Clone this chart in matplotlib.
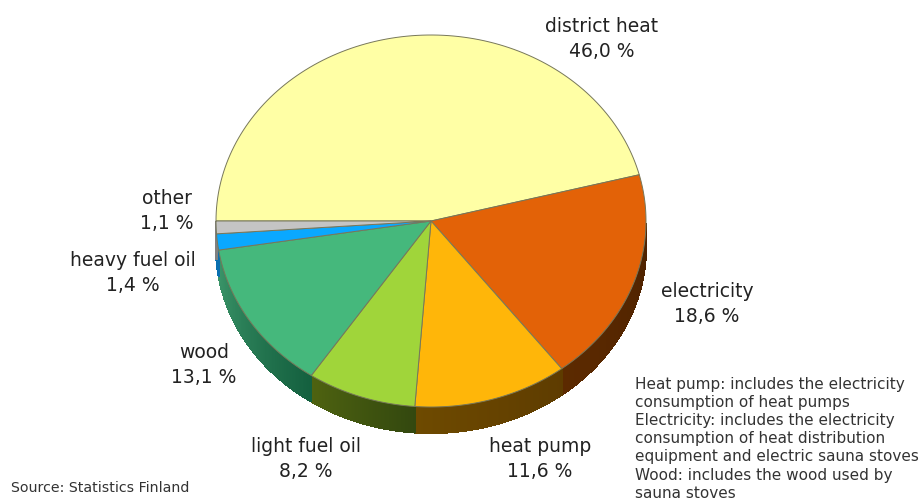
import numpy as np
import matplotlib
matplotlib.use("Agg")
import matplotlib.pyplot as plt
from matplotlib.patches import PathPatch, Polygon
from matplotlib.colors import to_rgb
from matplotlib.path import Path

# heating energy shares, clockwise starting from the left edge of the pie
names = ["district heat", "electricity", "heat pump", "light fuel oil", "wood", "heavy fuel oil", "other"]
shares = [46.0, 18.6, 11.6, 8.2, 13.1, 1.4, 1.1]
shares_txt = ["46,0 %", "18,6 %", "11,6 %", "8,2 %", "13,1 %", "1,4 %", "1,1 %"]
top_cols = ["#FFFFA5", "#E36207", "#FFB609", "#A0D53A", "#45B87C", "#0AA8FF", "#C4C4C4"]
# side wall runs from one shade to the next along the rim
side_a = ["#B0B070", "#4E2200", "#5E3C00", "#33480F", "#14603F", "#0A70B0", "#808080"]
side_b = ["#B0B070", "#5C2A00", "#6E4A00", "#4E6210", "#3A9468", "#0A70B0", "#808080"]
label_x = [602, 707, 540, 306, 204, 133, 167]
label_y = [39, 304, 459, 459, 365, 273, 211]
note = ("Heat pump: includes the electricity\nconsumption of heat pumps\n"
        "Electricity: includes the electricity\nconsumption of heat distribution\n"
        "equipment and electric sauna stoves\nWood: includes the wood used by\nsauna stoves")

cx, cy, rx, ry, depth = 431, 221, 215, 186, 26

fig = plt.figure(figsize=(9.21, 4.99), dpi=100)
ax = fig.add_axes([0, 0, 1, 1])
ax.set_xlim(0, 921)
ax.set_ylim(499, 0)
ax.axis("off")

# y axis is inverted, so angles grow clockwise on screen
edges = []
a = 180.0
for s in shares:
    edges.append((a, a + s * 3.6))
    a += s * 3.6

# side wall, only the part facing the viewer
for (a0, a1), c0, c1 in zip(edges, side_a, side_b):
    t = np.radians(np.linspace(a0, a1, 90))
    t = t[np.sin(t) > 0]
    if len(t) < 2:
        continue
    for i in range(len(t) - 1):
        f = i / (len(t) - 2) if len(t) > 2 else 0
        col = (1 - f) * np.array(to_rgb(c0)) + f * np.array(to_rgb(c1))
        x0, x1 = cx + rx * np.cos(t[i:i + 2])
        y0, y1 = cy + ry * np.sin(t[i:i + 2])
        ax.add_patch(Polygon([(x0, y0), (x1, y1), (x1, y1 + depth), (x0, y0 + depth)],
                             facecolor=col, edgecolor=col, lw=0.8, antialiased=False, zorder=1))

# top face
for (a0, a1), col in zip(edges, top_cols):
    t = np.radians(np.linspace(a0, a1, 120))
    xs = cx + rx * np.cos(t)
    ys = cy + ry * np.sin(t)
    verts = [(cx, cy)] + list(zip(xs, ys)) + [(cx, cy)]
    codes = [Path.MOVETO] + [Path.LINETO] * (len(verts) - 2) + [Path.CLOSEPOLY]
    ax.add_patch(PathPatch(Path(verts, codes), facecolor=col, edgecolor="#77775a", lw=0.7, zorder=2))

for n, v, x, y in zip(names, shares_txt, label_x, label_y):
    ax.text(x, y, n + "\n" + v, ha="center", va="center", fontsize=13.5, color="#222222",
            family="DejaVu Sans", linespacing=1.37)

ax.text(635, 377, note, ha="left", va="top", fontsize=11, color="#333333", linespacing=1.26)
ax.text(11, 488, "Source: Statistics Finland", ha="left", va="center", fontsize=10.2, color="#333333")

fig.savefig("out.png", dpi=100)
